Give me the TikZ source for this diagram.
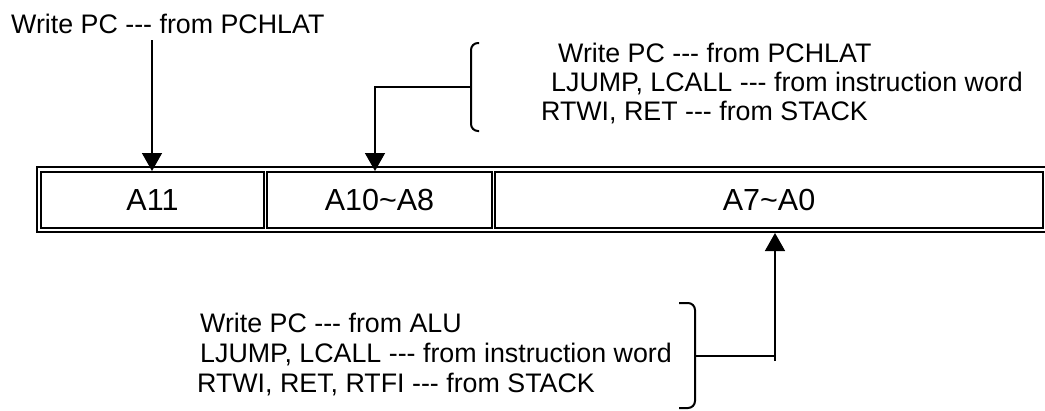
\documentclass[tikz,border=0pt]{standalone}
\usepackage{fontspec}
\setmainfont{Liberation Sans}[Ligatures=TeXOff]
\usetikzlibrary{arrows.meta}
\begin{document}
\begin{tikzpicture}[x=1pt,y=-1pt,
  txt/.style={font=\fontsize{26.8}{30}\selectfont},
  cell/.style={draw,line width=2pt,minimum height=56pt,inner sep=0pt,font=\fontsize{30.5}{34}\selectfont},
  lbl/.style={anchor=base west,inner sep=0pt,txt},
  conn/.style={line width=1.5pt},
  arr/.style={conn,-{Triangle[width=20pt,length=18pt]}},
  bracket/.style={line width=2pt,rounded corners=7pt}]
\useasboundingbox (0,0) rectangle (1045,410);
% outer frame and cells
\node[draw,line width=2pt,minimum width=1010pt,minimum height=65pt,inner sep=0pt] (frame) at (542,199.5) {};
\node[cell,minimum width=223pt] (c1) at (152.5,200) {A11};
\node[cell,minimum width=225pt] (c2) at (379.5,200) {A10\textasciitilde A8};
\node[cell,minimum width=548pt] (c3) at (769,200) {A7\textasciitilde A0};
% top-left source
\node[lbl] (t0) at (11,33) {Write PC --- from PCHLAT};
\coordinate (s1) at (152,40);
\draw[arr] (s1) -- (s1 |- c1.north);
% top-right source group
\node[lbl] (r1) at (558,62) {Write PC --- from PCHLAT};
\node[lbl] (r2) at (551,91) {LJUMP, LCALL --- from instruction word};
\node[lbl] (r3) at (541,120) {RTWI, RET --- from STACK};
\draw[bracket] (479,43) -- (471,43) -- (471,131) -- (479,131);
\coordinate (b1) at (471,87);
\coordinate (k2) at (375,87);
\draw[arr] (b1) -- (k2) -- (k2 |- c2.north);
% bottom source group
\node[lbl] (l1) at (200,332) {Write PC --- from ALU};
\node[lbl] (l2) at (200,362) {LJUMP, LCALL --- from instruction word};
\node[lbl] (l3) at (197,392) {RTWI, RET, RTFI --- from STACK};
\draw[bracket] (679,303) -- (695,303) -- (695,408) -- (679,408);
\coordinate (b2) at (695,356);
\coordinate (k3) at (775,356);
\coordinate (e3) at (775,361);
\draw[conn] (b2) -- (k3);
\draw[arr] (e3) -- (e3 |- frame.south);
\end{tikzpicture}
\end{document}
